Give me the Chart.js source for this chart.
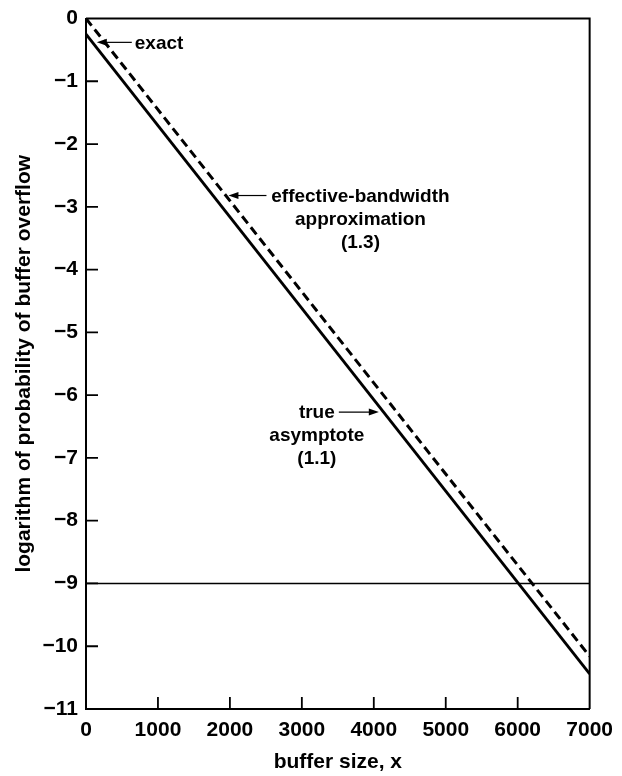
<!DOCTYPE html>
<html>
<head>
<meta charset="utf-8">
<script src="https://cdn.jsdelivr.net/npm/chart.js@4.4.1/dist/chart.umd.min.js"></script>
<style>
  html, body { margin: 0; padding: 0; background: #fff; }
  #wrap { width: 622px; height: 776px; }
</style>
</head>
<body>
<div id="wrap"><canvas id="chart" width="622" height="776"></canvas></div>
<script>
// Axis ticks
const xTickValues = [0, 1000, 2000, 3000, 4000, 5000, 6000, 7000];
const xTickLabels = ['0', '1000', '2000', '3000', '4000', '5000', '6000', '7000'];
const yTickValues = [0, -1, -2, -3, -4, -5, -6, -7, -8, -9, -10, -11];
const yTickLabels = ['0', '\u22121', '\u22122', '\u22123', '\u22124', '\u22125', '\u22126', '\u22127', '\u22128', '\u22129', '\u221210', '\u221211'];

// Series (buffer size -> log probability)
const bufferSize = [0, 7000];
const trueAsymptote = [-0.25, -10.44];
const effectiveBandwidth = [0, -10.16];
const thresholdX = [0, 7000];
const thresholdY = [-9, -9];

const FONT = "'Liberation Sans', Arial, Helvetica, sans-serif";

const toPoints = (xs, ys) => xs.map((x, i) => ({ x, y: ys[i] }));

// Labels with arrows; tip given in data coordinates
const annotations = [
    { tip: [150, -0.38], tail: 35, dir: 1, lines: ['exact'], textDx: 38, align: 'left', lineGap: 22 },
    { tip: [1980, -2.82], tail: 38, dir: 1, lines: ['effective-bandwidth', 'approximation', '(1.3)'], textDx: 132, align: 'center', lineGap: 23 },
    { tip: [4070, -6.27], tail: 40, dir: -1, lines: ['true', 'asymptote', '(1.1)'], textDx: -62, align: 'center', lineGap: 23 },
];

// Draws inward tick marks, the top/right frame and the labelled arrows
const framePlugin = {
    id: 'frame',
    afterDatasetsDraw(chart) {
        const { ctx, chartArea: a, scales: { x, y } } = chart;
        ctx.save();
        ctx.strokeStyle = '#000';
        ctx.lineWidth = 2;
        ctx.beginPath();
        ctx.moveTo(a.left, a.top);
        ctx.lineTo(a.right, a.top);
        ctx.lineTo(a.right, a.bottom);
        ctx.stroke();

        ctx.lineWidth = 1.8;
        ctx.beginPath();
        xTickValues.slice(1, -1).forEach(v => {
            const px = x.getPixelForValue(v);
            ctx.moveTo(px, a.bottom);
            ctx.lineTo(px, a.bottom - 12);
        });
        yTickValues.slice(1, -1).forEach(v => {
            const py = y.getPixelForValue(v);
            ctx.moveTo(a.left, py);
            ctx.lineTo(a.left + 12, py);
        });
        ctx.stroke();

        ctx.fillStyle = '#000';
        ctx.font = `bold 19px ${FONT}`;
        ctx.textBaseline = 'middle';
        annotations.forEach(an => {
            const tx = x.getPixelForValue(an.tip[0]);
            const ty = y.getPixelForValue(an.tip[1]);
            const ex = tx + an.dir * an.tail;
            ctx.lineWidth = 1.2;
            ctx.beginPath();
            ctx.moveTo(ex, ty);
            ctx.lineTo(tx + an.dir * 8, ty);
            ctx.stroke();
            ctx.beginPath();
            ctx.moveTo(tx, ty);
            ctx.lineTo(tx + an.dir * 10, ty - 3.5);
            ctx.lineTo(tx + an.dir * 10, ty + 3.5);
            ctx.closePath();
            ctx.fill();
            ctx.textAlign = an.align;
            an.lines.forEach((line, i) => {
                ctx.fillText(line, tx + an.textDx, ty + 1 + i * an.lineGap);
            });
        });
        ctx.restore();
    }
};

new Chart(document.getElementById('chart'), {
    type: 'line',
    data: {
        datasets: [
            {
                label: 'true asymptote (1.1)',
                data: toPoints(bufferSize, trueAsymptote),
                borderColor: '#000',
                borderWidth: 2.8,
                pointRadius: 0,
            },
            {
                label: 'effective-bandwidth approximation (1.3)',
                data: toPoints(bufferSize, effectiveBandwidth),
                borderColor: '#000',
                borderWidth: 3,
                borderDash: [9, 5],
                pointRadius: 0,
            },
            {
                label: 'level -9',
                data: toPoints(thresholdX, thresholdY),
                borderColor: '#000',
                borderWidth: 1.6,
                pointRadius: 0,
            },
        ],
    },
    options: {
        responsive: false,
        animation: false,
        layout: { padding: { top: 15, right: 27, left: 0, bottom: 0 } },
        plugins: { legend: { display: false }, tooltip: { enabled: false } },
        scales: {
            x: {
                type: 'linear',
                min: 0,
                max: 7000,
                afterFit: (s) => { s.height = 67; },
                afterBuildTicks: (s) => { s.ticks = xTickValues.map(v => ({ value: v })); },
                grid: { display: false, drawTicks: false },
                border: { display: true, color: '#000', width: 2 },
                ticks: {
                    padding: 9,
                    color: '#000',
                    font: { family: FONT, size: 21, weight: 'bold' },
                    callback: (v) => xTickLabels[xTickValues.indexOf(v)],
                    maxRotation: 0,
                },
                title: {
                    display: true,
                    text: 'buffer size, x',
                    color: '#000',
                    font: { family: FONT, size: 21, weight: 'bold' },
                    padding: { top: 0, bottom: 1 },
                },
            },
            y: {
                type: 'linear',
                min: -11,
                max: 0,
                afterFit: (s) => { s.width = 86; },
                afterBuildTicks: (s) => { s.ticks = yTickValues.map(v => ({ value: v })); },
                grid: { display: false, drawTicks: false },
                border: { display: true, color: '#000', width: 2 },
                ticks: {
                    padding: 8,
                    color: '#000',
                    font: { family: FONT, size: 21, weight: 'bold', lineHeight: 1 },
                    callback: (v) => yTickLabels[yTickValues.indexOf(v)],
                },
                title: {
                    display: true,
                    text: 'logarithm of probability of buffer overflow',
                    color: '#000',
                    font: { family: FONT, size: 21, weight: 'bold' },
                    padding: { top: 12, bottom: 0 },
                },
            },
        },
    },
    plugins: [framePlugin],
});
</script>
</body>
</html>
